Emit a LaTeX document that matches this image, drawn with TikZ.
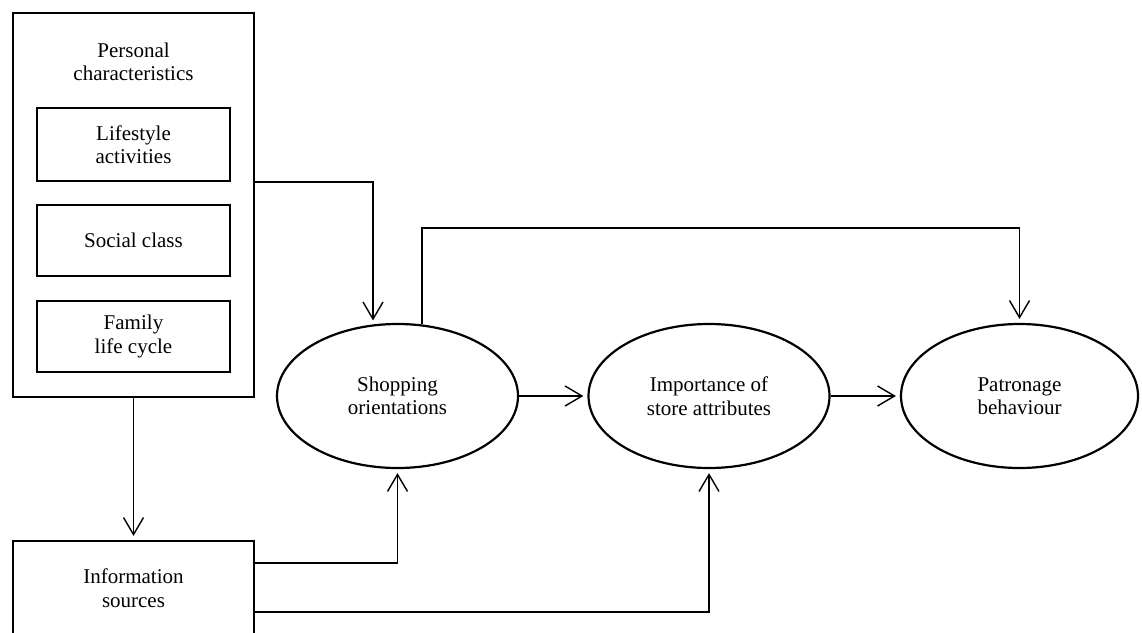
\documentclass[tikz,border=0pt]{standalone}
\usepackage{fontspec}
\setmainfont{Liberation Serif}
\usetikzlibrary{arrows.meta,shapes.geometric}

\begin{document}
\begin{tikzpicture}[
    x=1pt, y=-1pt,
    txt/.style={font=\fontsize{21}{23.5}\selectfont, align=center, inner sep=0pt},
    box/.style={draw, line width=2.2pt, rectangle, inner sep=0pt, txt},
    oval/.style={draw, line width=2.2pt, ellipse, inner sep=0pt, txt,
                 minimum width=241pt, minimum height=144pt},
    link/.style={draw, line width=1.4pt, -{Straight Barb[length=17pt,width=20pt]},
                 shorten >=4pt}
  ]
  \useasboundingbox (0,0) rectangle (1142,632);

  % Personal characteristics group
  \node[box, minimum width=241pt, minimum height=384pt] (pc) at (133.5,205) {};
  \node[txt] (pctitle) at (133.5,62) {Personal\\characteristics};
  \node[box, minimum width=193pt, minimum height=73pt] (life) at (133.5,144.5) {Lifestyle\\activities};
  \node[box, minimum width=193pt, minimum height=71pt] (soc)  at (133.5,240.5) {Social class};
  \node[box, minimum width=193pt, minimum height=71pt] (fam)  at (133.5,336.5) {Family\\life cycle};

  % Information sources
  \node[box, minimum width=241pt, minimum height=94pt] (info) at (133.5,588) {Information\\sources};

  % Outcome ellipses
  \node[oval] (shop) at (397.5,396) {Shopping\\orientations};
  \node[oval] (imp)  at (709,396)   {Importance of\\store attributes};
  \node[oval, minimum width=237pt] (pat) at (1019.5,396) {Patronage\\behaviour};

  % Helper points for the routed connectors
  \coordinate (shopin)  at ([xshift=-24.5pt,yshift=-1.5pt]shop.north);
  \coordinate (shopout) at ([xshift=24.5pt,yshift=-1.5pt]shop.north);
  \coordinate (toprail) at (0,228);
  \coordinate (inforail1) at (0,563);
  \coordinate (inforail2) at (0,612);

  % Connectors
  \draw[link] (pc.south) -- (info.north);
  \draw[link] (pc.east |- life.south) -| (shopin);
  \draw[link] (shopout) -- (shopout |- toprail) -| (pat.north);
  \draw[link] (shop.east) -- (imp.west);
  \draw[link] (imp.east) -- (pat.west);
  \draw[link] (info.east |- inforail1) -| (shop.south);
  \draw[link] (info.east |- inforail2) -| (imp.south);
\end{tikzpicture}
\end{document}
